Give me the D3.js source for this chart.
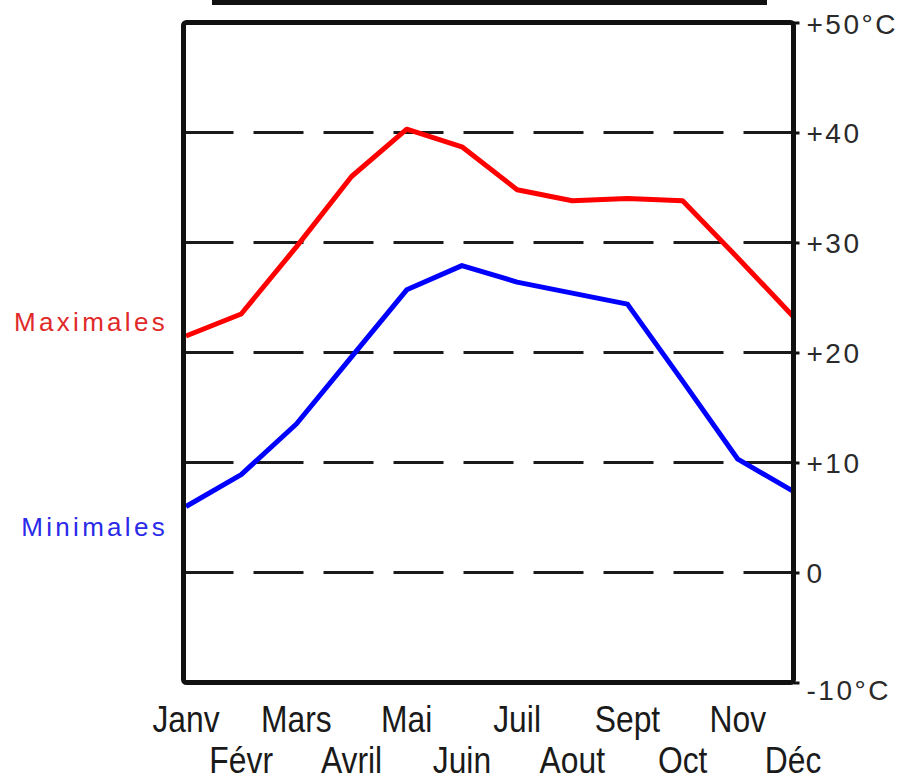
<!DOCTYPE html>
<html>
<head>
<meta charset="utf-8">
<script src="https://cdn.jsdelivr.net/npm/d3@7"></script>
<style>
  body { margin: 0; background: #fff; }
  #graphicContainer { width: 903px; height: 782px; }
  text { font-family: "Liberation Sans", Arial, sans-serif; }
</style>
</head>
<body>
<div id="graphicContainer"></div>
<script>

// month labels (top row = odd months, bottom row = even)
var months = ["Janv", "Févr", "Mars", "Avril", "Mai", "Juin", "Juil", "Aout", "Sept", "Oct", "Nov", "Déc"]

// temperatures (°C)
var maxTemps = [21.5, 23.5, 29.6, 36.0, 40.3, 38.7, 34.8, 33.8, 34.0, 33.8, 28.6, 23.3]
var minTemps = [6.0, 8.9, 13.5, 19.6, 25.7, 27.9, 26.4, 25.4, 24.4, 17.4, 10.3, 7.4]

var gridValues = [0, 10, 20, 30, 40]
var tickValues = [-10, 0, 10, 20, 30, 40, 50]
var tickLabels = ["-10°C", "0", "+10", "+20", "+30", "+40", "+50°C"]

var seriesLabels = ["Maximales", "Minimales"]

function init() {

	var width = 903
	var height = 782

	var frame = {left: 183.5, right: 793.5, top: 22.5, bottom: 682.5}

	var svg = d3.select("#graphicContainer").append("svg")
		.attr("width", width)
		.attr("height", height)

	var x = d3.scalePoint()
		.domain(months)
		.range([186, 793])

	var y = d3.scaleLinear()
		.domain([-10, 50])
		.range([frame.bottom, frame.top])

	// cut-off title bar at the very top
	svg.append("rect")
		.attr("x", 212)
		.attr("y", 0)
		.attr("width", 555)
		.attr("height", 5)
		.attr("fill", "#111")

	// dashed grid lines
	svg.selectAll(".grid")
		.data(gridValues)
		.enter()
		.append("line")
		.attr("class", "grid")
		.attr("x1", frame.left)
		.attr("x2", frame.right)
		.attr("y1", d => y(d))
		.attr("y2", d => y(d))
		.attr("stroke", "#1a1a1a")
		.attr("stroke-width", 3)
		.style("stroke-dasharray", "50 20")

	// right axis
	var yAxis = d3.axisRight(y)
		.tickValues(tickValues)
		.tickSize(6)
		.tickPadding(7)
		.tickFormat((d, i) => tickLabels[i])

	var axisG = svg.append("g")
		.attr("class", "axis y")
		.attr("transform", "translate(" + frame.right + ",0)")
		.call(yAxis)

	axisG.select(".domain").remove()
	axisG.selectAll("line").attr("stroke", "#111").attr("stroke-width", 3)
	axisG.selectAll("text")
		.attr("font-size", 28)
		.attr("fill", "#2a2a2a")
		.attr("letter-spacing", 2.5)
		.attr("dy", (d) => d === -10 ? "0.62em" : d === 50 ? "0.4em" : "0.36em")

	// lines
	var line = d3.line()
		.x((d, i) => x(months[i]))
		.y(d => y(d))

	svg.append("path")
		.datum(maxTemps)
		.attr("d", line)
		.attr("fill", "none")
		.attr("stroke", "#ff0000")
		.attr("stroke-width", 5)
		.attr("stroke-linejoin", "round")

	svg.append("path")
		.datum(minTemps)
		.attr("d", line)
		.attr("fill", "none")
		.attr("stroke", "#0000ff")
		.attr("stroke-width", 5)
		.attr("stroke-linejoin", "round")

	// frame
	svg.append("rect")
		.attr("x", frame.left)
		.attr("y", frame.top)
		.attr("width", frame.right - frame.left)
		.attr("height", frame.bottom - frame.top)
		.attr("rx", 3)
		.attr("fill", "none")
		.attr("stroke", "#111")
		.attr("stroke-width", 5)

	// series labels on the left
	svg.append("text")
		.attr("x", 168)
		.attr("y", y(maxTemps[0]) - 5)
		.attr("text-anchor", "end")
		.attr("font-size", 26)
		.attr("letter-spacing", 3.3)
		.attr("fill", "#e02a2a")
		.text(seriesLabels[0])

	svg.append("text")
		.attr("x", 168)
		.attr("y", y(minTemps[0]) + 29)
		.attr("text-anchor", "end")
		.attr("font-size", 26)
		.attr("letter-spacing", 3.3)
		.attr("fill", "#2a2ae8")
		.text(seriesLabels[1])

	// month labels, two staggered rows, condensed
	svg.selectAll(".monthLabel")
		.data(months)
		.enter()
		.append("text")
		.attr("class", "monthLabel")
		.attr("transform", (d, i) => "translate(" + x(d) + "," + (i % 2 === 0 ? 732 : 773) + ") scale(0.86,1)")
		.attr("text-anchor", "middle")
		.attr("font-size", 37)
		.attr("fill", "#1a1a1a")
		.text(d => d)
}

init()

</script>
</body>
</html>
